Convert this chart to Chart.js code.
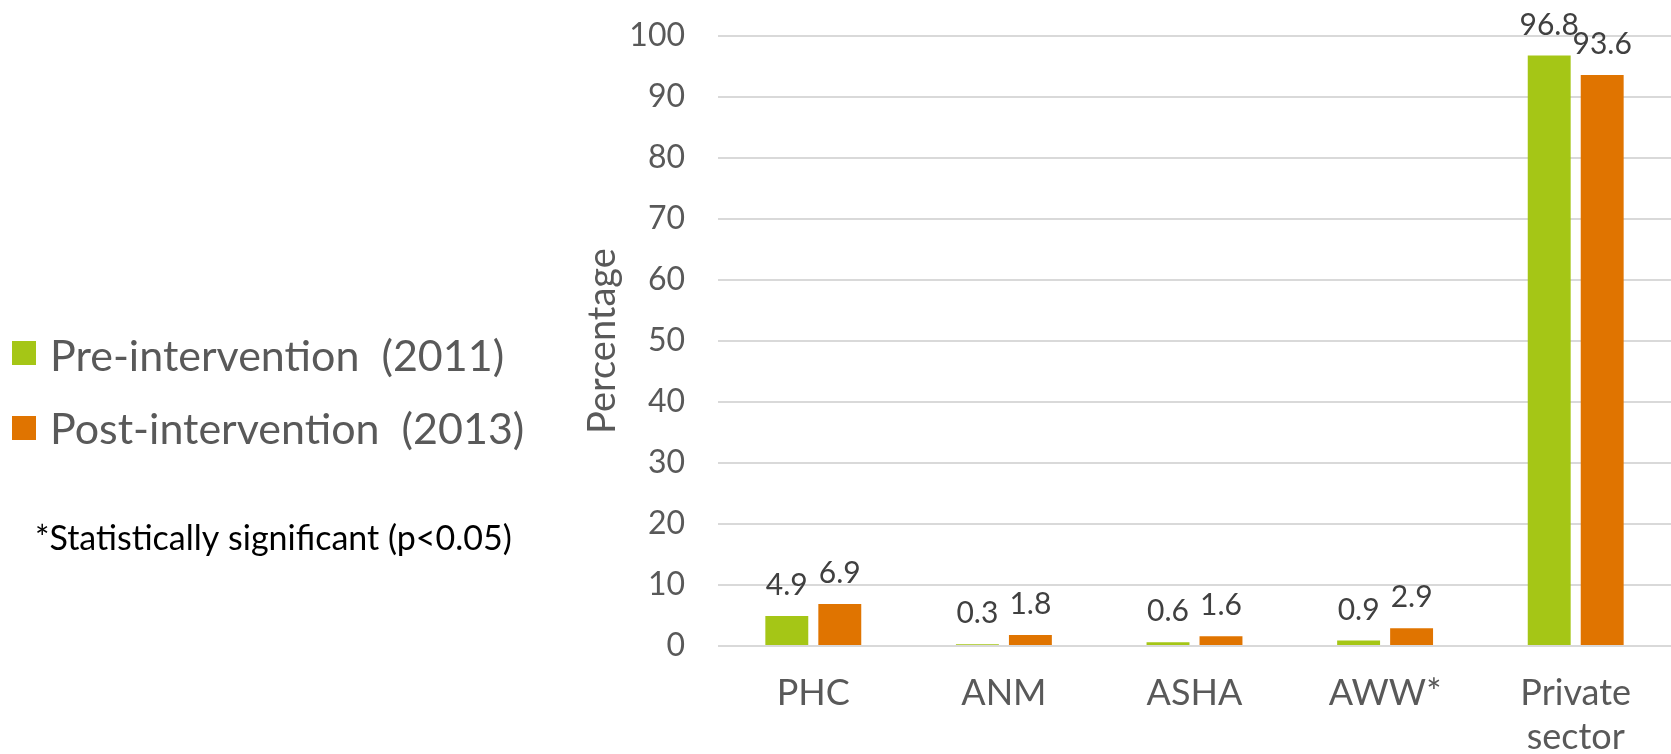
<!DOCTYPE html>
<html>
<head>
<meta charset="utf-8">
<script src="https://cdn.jsdelivr.net/npm/chart.js@4.4.0/dist/chart.umd.min.js"></script>
<style>
  html, body { margin: 0; padding: 0; background: #ffffff; }
  #wrap { position: relative; width: 1671px; height: 754px; }
  canvas { display: block; }
</style>
</head>
<body>
<div id="wrap"><canvas id="chart" width="1671" height="754"></canvas></div>
<script>
// Source of care: share of respondents (%) by provider
const categories = [['PHC'], ['ANM'], ['ASHA'], ['AWW*'], ['Private', 'sector']];
const preValues  = [4.9, 0.3, 0.6, 0.9, 96.8];
const postValues = [6.9, 1.8, 1.6, 2.9, 93.6];
const seriesNames = ['Pre-intervention  (2011)', 'Post-intervention  (2013)'];
const seriesColors = ['#A5C616', '#E07400'];
const yAxisTitle = 'Percentage';
const footNote = '*Statistically significant (p<0.05)';

const FONT = 'Lato, "Open Sans", sans-serif';
const GREY = '#595959';

// Value labels above each bar
const valueLabels = {
  id: 'valueLabels',
  afterDatasetsDraw(chart) {
    const ctx = chart.ctx;
    ctx.save();
    ctx.font = '30px ' + FONT;
    ctx.fillStyle = '#404040';
    ctx.textAlign = 'center';
    ctx.textBaseline = 'alphabetic';
    chart.data.datasets.forEach((ds, i) => {
      chart.getDatasetMeta(i).data.forEach((bar, j) => {
        ctx.fillText(ds.data[j].toFixed(1), bar.x, bar.y - 21);
      });
    });
    ctx.restore();
  }
};

// Series key and footnote on the left side
const sideKey = {
  id: 'sideKey',
  afterDraw(chart) {
    const ctx = chart.ctx;
    ctx.save();
    ctx.textAlign = 'left';
    ctx.textBaseline = 'alphabetic';
    const boxTops = [341, 416];
    const baselines = [371, 444];
    chart.data.datasets.forEach((ds, i) => {
      ctx.fillStyle = ds.backgroundColor;
      ctx.fillRect(12, boxTops[i], 24, 24);
      ctx.fillStyle = GREY;
      ctx.font = '43px ' + FONT;
      ctx.fillText(ds.label, 50, baselines[i]);
    });
    ctx.fillStyle = '#000000';
    ctx.font = '34px ' + FONT;
    ctx.fillText(footNote, 35, 550);
    ctx.restore();
  }
};

new Chart(document.getElementById('chart'), {
  type: 'bar',
  data: {
    labels: categories,
    datasets: [
      { label: seriesNames[0], data: preValues,  backgroundColor: seriesColors[0],
        barPercentage: 0.81, categoryPercentage: 0.556 },
      { label: seriesNames[1], data: postValues, backgroundColor: seriesColors[1],
        barPercentage: 0.81, categoryPercentage: 0.556 }
    ]
  },
  options: {
    responsive: false,
    animation: false,
    layout: { padding: { left: 560, top: 36, right: 0, bottom: 0 } },
    plugins: {
      legend: { display: false },
      tooltip: { enabled: false }
    },
    scales: {
      x: {
        grid: { display: false },
        border: { display: false },
        ticks: {
          color: GREY,
          font: { family: FONT, size: 36, lineHeight: 1.21 },
          padding: 18,
          maxRotation: 0,
          autoSkip: false
        },
        afterFit(scale) { scale.height = 108; }
      },
      y: {
        min: 0,
        max: 100,
        ticks: {
          stepSize: 10,
          color: GREY,
          font: { family: FONT, size: 32 },
          padding: 33
        },
        grid: { color: '#D9D9D9', lineWidth: 2, drawTicks: false },
        border: { display: false },
        title: {
          display: true,
          text: yAxisTitle,
          color: GREY,
          font: { family: FONT, size: 38 },
          padding: { top: 20, bottom: 0 }
        },
        afterFit(scale) {
          scale.width = 158;
          scale.paddingTop = 0;
          scale.paddingBottom = 0;
        }
      }
    }
  },
  plugins: [valueLabels, sideKey]
});
</script>
</body>
</html>
